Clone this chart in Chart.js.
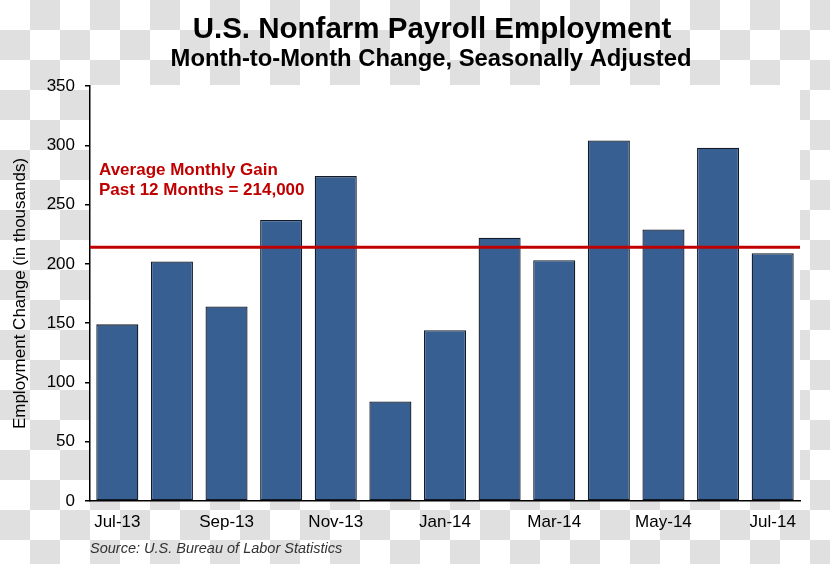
<!DOCTYPE html>
<html><head><meta charset="utf-8">
<script src="https://cdn.jsdelivr.net/npm/chart.js@4/dist/chart.umd.min.js"></script>
<style>
html,body{margin:0;padding:0;}
body{width:830px;height:564px;overflow:hidden;background:repeating-conic-gradient(#e0e0e0 0 25%, #ffffff 0 50%) 0 0/60px 60px;}
#wrap{position:relative;width:830px;height:564px;}
</style></head><body>
<div id="wrap"><canvas id="c" width="830" height="564"></canvas></div>
<script>
const categories = ["Jul-13","Aug-13","Sep-13","Oct-13","Nov-13","Dec-13","Jan-14","Feb-14","Mar-14","Apr-14","May-14","Jun-14","Jul-14"];
const employmentChange = [149, 202, 164, 237, 274, 84, 144, 222, 203, 304, 229, 298, 209];
const yTickValues = [0, 50, 100, 150, 200, 250, 300, 350];
const averageGain = 214;
const titleText = "U.S. Nonfarm Payroll Employment";
const subtitleText = "Month-to-Month Change, Seasonally Adjusted";
const yAxisTitle = "Employment Change (in thousands)";
const annotationLines = ["Average Monthly Gain", "Past 12 Months = 214,000"];
const sourceText = "Source: U.S. Bureau of Labor Statistics";

const FONT = "'Liberation Sans', Arial, Helvetica, sans-serif";
Chart.defaults.font.family = FONT;
Chart.defaults.color = '#000';

const plotBg = {
  id: 'plotBg',
  beforeDraw(chart) {
    const a = chart.chartArea, ctx = chart.ctx;
    ctx.save();
    ctx.fillStyle = '#ffffff';
    ctx.fillRect(a.left, a.top - 1, a.right - a.left, a.bottom - a.top + 1);
    ctx.restore();
  }
};

const avgLine = {
  id: 'avgLine',
  afterDatasetsDraw(chart) {
    const a = chart.chartArea, ctx = chart.ctx;
    const y = chart.scales.y.getPixelForValue(averageGain);
    ctx.save();
    ctx.strokeStyle = '#C00000';
    ctx.lineWidth = 3;
    ctx.beginPath();
    ctx.moveTo(a.left, y);
    ctx.lineTo(a.right, y);
    ctx.stroke();
    ctx.fillStyle = '#C00000';
    ctx.font = 'bold 17px ' + FONT;
    ctx.textBaseline = 'alphabetic';
    ctx.textAlign = 'left';
    ctx.fillText(annotationLines[0], a.left + 9, 175);
    ctx.fillText(annotationLines[1], a.left + 9, 195);
    ctx.restore();
  }
};

const texts = {
  id: 'texts',
  afterDraw(chart) {
    const ctx = chart.ctx;
    ctx.save();
    ctx.fillStyle = '#000';
    ctx.textAlign = 'center';
    ctx.textBaseline = 'alphabetic';
    ctx.font = 'bold 29.5px ' + FONT;
    ctx.fillText(titleText, 432, 38);
    ctx.font = 'bold 23.8px ' + FONT;
    ctx.fillText(subtitleText, 431, 66);
    ctx.textAlign = 'left';
    ctx.fillStyle = '#333';
    ctx.font = 'italic 14.5px ' + FONT;
    ctx.fillText(sourceText, 90, 553);
    ctx.restore();
  }
};

new Chart(document.getElementById('c'), {
  type: 'bar',
  data: {
    labels: categories,
    datasets: [{
      data: employmentChange,
      backgroundColor: '#375F92',
      borderColor: '#121a28',
      borderWidth: 1.3,
      borderSkipped: false,
      categoryPercentage: 1.0,
      barPercentage: 0.77
    }]
  },
  options: {
    responsive: false,
    devicePixelRatio: 1,
    animation: false,
    layout: { padding: { left: 0, top: 86, right: 30, bottom: 23 } },
    plugins: { legend: { display: false }, tooltip: { enabled: false }, title: { display: false } },
    scales: {
      x: {
        grid: { display: false },
        border: { display: true, color: '#000', width: 1.5 },
        ticks: {
          autoSkip: false, maxRotation: 0, minRotation: 0, padding: 3,
          font: { size: 17 }, color: '#000',
          callback: (v, i) => (i % 2 === 0 ? categories[i] : '')
        },
        afterFit: (s) => { s.height = 40; }
      },
      y: {
        min: 0, max: 350,
        afterBuildTicks: (s) => { s.ticks = yTickValues.map(v => ({ value: v })); },
        grid: { drawOnChartArea: false, drawTicks: true, tickLength: 5, color: '#000', lineWidth: 1.5 },
        border: { display: true, color: '#000', width: 1.5 },
        ticks: { padding: 10, font: { size: 17 }, color: '#000' },
        title: { display: true, text: yAxisTitle, font: { size: 17 }, color: '#000', padding: { top: 10, bottom: 0 } },
        afterFit: (s) => { s.width = 90; }
      }
    }
  },
  plugins: [plotBg, avgLine, texts]
});
</script>
</body></html>
